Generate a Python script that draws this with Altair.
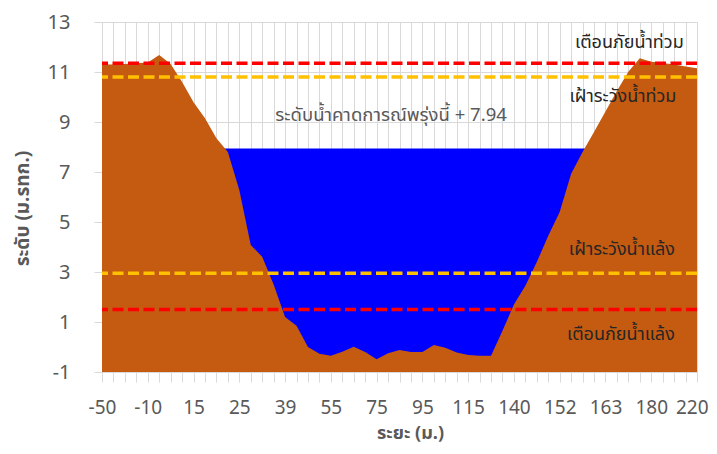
import altair as alt
import pandas as pd

# category labels (distance, m) -- only every 4th one is printed on the axis
distances = ["-50", "-40", "-30", "-20", "-10", "-5", "0", "10", "15", "18",
             "20", "22", "25", "28", "31", "35", "39", "43", "47", "51",
             "55", "60", "65", "70", "75", "80", "85", "90", "95", "100",
             "105", "110", "115", "120", "125", "130", "140", "143", "146", "149",
             "152", "155", "158", "160", "163", "167", "171", "175", "180", "190",
             "200", "210", "220"]
shown_ticks = ["-50", "-10", "15", "25", "39", "55", "75", "95", "115", "140",
               "152", "163", "180", "220"]

# ground profile (m. MSL)
ground = [11.30, 11.30, 11.32, 11.35, 11.38, 11.68, 11.32, 10.60, 9.79, 9.15,
          8.35, 7.80, 6.28, 4.08, 3.61, 2.50, 1.20, 0.85, 0.00, -0.27,
          -0.35, -0.19, 0.01, -0.20, -0.49, -0.25, -0.12, -0.20, -0.20, 0.08,
          -0.03, -0.22, -0.32, -0.35, -0.35, 0.65, 1.70, 2.45, 3.40, 4.45,
          5.40, 6.93, 7.80, 8.60, 9.42, 10.24, 11.01, 11.55, 11.41, 11.36,
          11.30, 11.22, 11.15]

water_level = 7.94

level_names = ["flood_warn", "flood_watch", "drought_watch", "drought_warn"]
level_values = [11.35, 10.80, 2.95, 1.50]
level_colors = ["#FF0000", "#FFC000", "#FFC000", "#FF0000"]

ann_text = ["เตือนภัยน้ำท่วม", "เฝ้าระวังน้ำท่วม", "เฝ้าระวังน้ำแล้ง", "เตือนภัยน้ำแล้ง",
            "ระดับน้ำคาดการณ์พรุ่งนี้ + 7.94"]
ann_x = ["171", "167", "167", "167", "80"]
ann_y = [12.15, 10.0, 3.88, 0.48, 9.28]
ann_dx = [1, 6, 5, 4, 3]
ann_size = [18, 18, 18, 18, 18.5]
ann_color = ["#262626", "#262626", "#262626", "#262626", "#595959"]

y_ticks = [-1, 1, 3, 5, 7, 9, 11, 13]

FONT = "Noto Sans Thai, Noto Sans, Tahoma, sans-serif"
GRID = "#D9D9D9"

df = pd.DataFrame({"d": distances, "ground": ground,
                   "water": [water_level] * len(distances)})
lv = pd.DataFrame({"name": level_names, "v": level_values, "c": level_colors})
ann = pd.DataFrame({"t": ann_text, "d": ann_x, "v": ann_y, "dx": ann_dx,
                    "s": ann_size, "c": ann_color})

js_list = "[" + ",".join("'" + s + "'" for s in shown_ticks) + "]"
last = "datum.value == '" + distances[-1] + "'"

x_enc = alt.X("d:O", sort=distances,
              scale=alt.Scale(type="point", padding=0),
              axis=alt.Axis(title="ระยะ (ม.)", labelAngle=0, labelOverlap=False,
                            labelExpr=f"indexof({js_list}, datum.value) >= 0 ? datum.label : ''",
                            labelAlign={"condition": {"test": last, "value": "right"},
                                        "value": "center"},
                            labelOffset={"condition": {"test": last, "value": 11},
                                         "value": 0},
                            grid=True, gridColor=GRID, tickColor=GRID, tickSize=10,
                            domainColor=GRID, labelColor="#595959", labelFontSize=19,
                            labelFont=FONT, labelBaseline="middle", labelPadding=25,
                            titleFont=FONT, titleFontSize=18, titleFontWeight="bold",
                            titleColor="#595959", titleX=308, titleY=66,
                            titleBaseline="alphabetic", titleAlign="center"))

y_scale = alt.Scale(domain=[-1, 13], nice=False, zero=False)
y_axis = alt.Axis(title="ระดับ (ม.รทก.)", values=y_ticks, grid=True, gridColor=GRID,
                  tickColor=GRID, tickSize=8, domainColor=GRID, labelColor="#595959",
                  labelFontSize=20, labelFont=FONT, labelPadding=24,
                  titleFont=FONT, titleFontSize=19, titleFontWeight="bold",
                  titleColor="#595959", titleX=-80, titleY=186, titleAngle=-90,
                  titleBaseline="middle", titleAlign="center")

water = alt.Chart(df).mark_area(color="#0000FF", opacity=1).encode(
    x=x_enc,
    y=alt.Y("water:Q", scale=y_scale, axis=y_axis),
    y2=alt.Y2(datum=-1),
)

land = alt.Chart(df).mark_area(color="#C55A11", opacity=1).encode(
    x=x_enc,
    y=alt.Y("ground:Q", scale=y_scale, axis=y_axis),
    y2=alt.Y2(datum=-1),
)

lines = alt.Chart(lv).mark_rule(strokeDash=[11, 4.5], strokeWidth=3.3).encode(
    y=alt.Y("v:Q", scale=y_scale, axis=y_axis),
    color=alt.Color("c:N", scale=None),
)

texts = alt.Chart(ann).mark_text(font=FONT, align="center",
                                 baseline="middle").encode(
    x=x_enc,
    y=alt.Y("v:Q", scale=y_scale, axis=y_axis),
    text="t:N",
    size=alt.Size("s:Q", scale=None),
    xOffset=alt.XOffset("dx:Q", scale=None),
    color=alt.Color("c:N", scale=None),
)

chart = alt.layer(water, land, lines, texts).properties(
    width=595, height=350,
    autosize=alt.AutoSizeParams(type="none"),
    padding={"left": 94, "top": 14, "right": 12, "bottom": 74},
    background="white",
).configure_view(strokeWidth=0)

chart.save("out.html", embed_options={"renderer": "svg", "actions": False})
